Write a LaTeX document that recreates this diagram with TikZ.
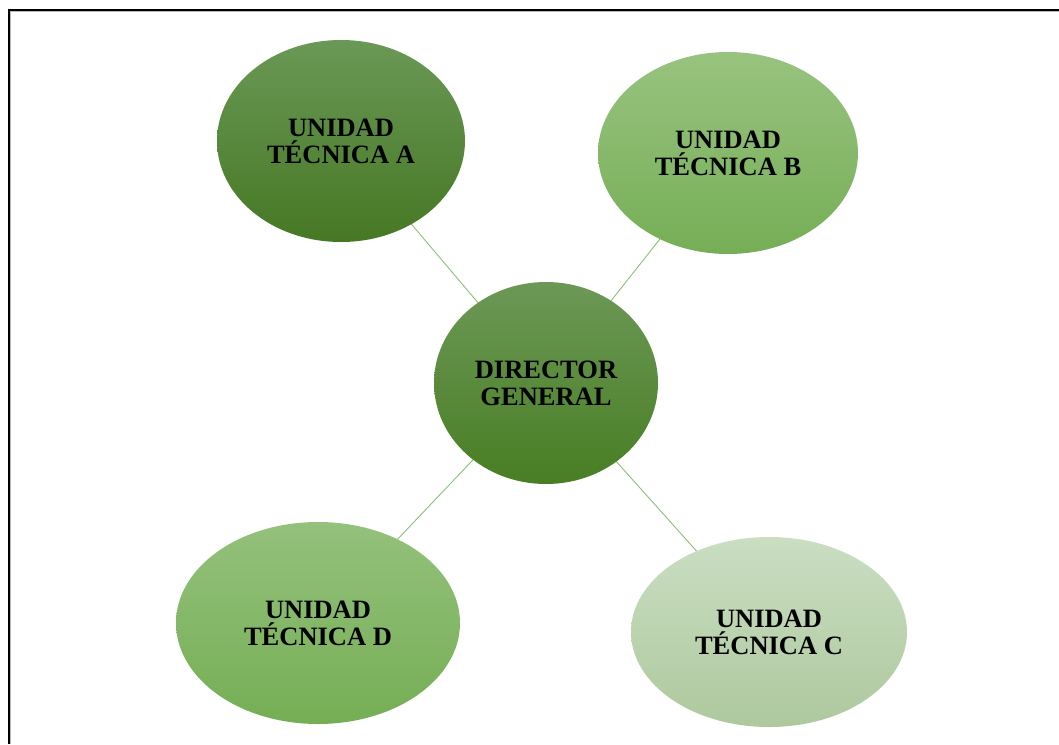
\documentclass[tikz,border=0pt]{standalone}
\usepackage{fontspec}
\setmainfont{Liberation Serif}
\usetikzlibrary{shapes.geometric}
\definecolor{linkgreen}{HTML}{8DBE77}
\tikzset{
  unit/.style={ellipse, inner sep=0pt, align=center,
    font=\fontsize{26.5}{27}\selectfont\bfseries, text=black},
  link/.style={draw=linkgreen, line width=0.9pt},
}
\begin{document}
\begin{tikzpicture}[x=1pt, y=-1pt]
  \useasboundingbox (0,0) rectangle (1059,744);
  % page frame
  \draw[gray!55, line width=1.2pt] (10.8,744) -- (10.8,11.8) -- (1059,11.8);
  \draw[black, line width=2pt] (8.8,744) -- (8.8,9.6) -- (1059,9.6);

  % positions of the units
  \coordinate (cA) at (341,141);
  \coordinate (cB) at (728,153);
  \coordinate (cM) at (546,383);
  \coordinate (cD) at (318,623);
  \coordinate (cC) at (769,632);

  % connectors drawn below the ellipses
  \draw[link] (cM) -- (cA);
  \draw[link] (cM) -- (cB);
  \draw[link] (cM) -- (cC);
  \draw[link] (cM) -- (cD);

  \node[unit, minimum width=248pt, minimum height=202pt,
        top color={rgb,255:red,106;green,152;blue,86},
        bottom color={rgb,255:red,70;green,120;blue,36}]
        (a) at (cA) {UNIDAD\\TÉCNICA A};
  \node[unit, minimum width=260pt, minimum height=202pt,
        top color={rgb,255:red,152;green,195;blue,127},
        bottom color={rgb,255:red,118;green,174;blue,86}]
        (b) at (cB) {UNIDAD\\TÉCNICA B};
  \node[unit, minimum width=224pt, minimum height=202pt,
        top color={rgb,255:red,108;green,152;blue,86},
        bottom color={rgb,255:red,72;green,126;blue,36}]
        (m) at (cM) {DIRECTOR\\GENERAL};
  \node[unit, minimum width=284pt, minimum height=202pt,
        top color={rgb,255:red,148;green,193;blue,124},
        bottom color={rgb,255:red,117;green,174;blue,84}]
        (d) at (cD) {UNIDAD\\TÉCNICA D};
  \node[unit, minimum width=276pt, minimum height=190pt,
        top color={rgb,255:red,202;green,222;blue,194},
        bottom color={rgb,255:red,174;green,200;blue,158}]
        (c) at (cC) {UNIDAD\\TÉCNICA C};
\end{tikzpicture}
\end{document}
